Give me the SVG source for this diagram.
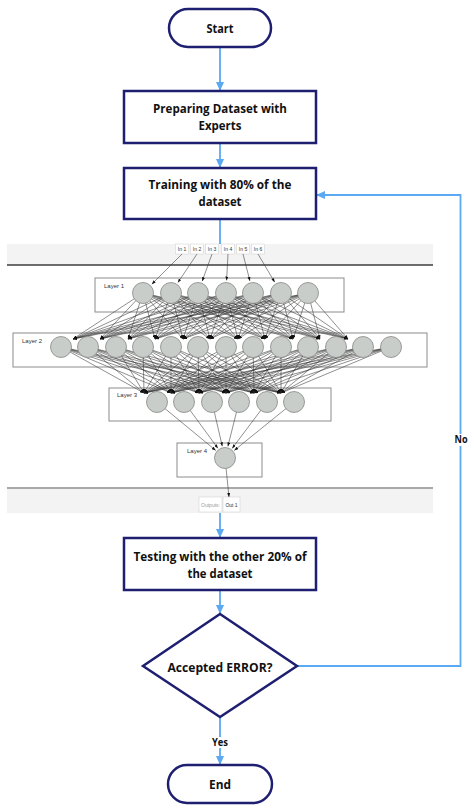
<svg xmlns="http://www.w3.org/2000/svg" width="474" height="809" viewBox="0 0 474 809">
<style>
.fc{fill:#fff;stroke:#1f1f72;stroke-width:2.5}
.t{font-family:"Open Sans","Liberation Sans",sans-serif;font-weight:bold;font-size:13px;fill:#111;text-anchor:middle}
.bl{fill:none;stroke:#5aa9f2;stroke-width:1.8}
.blm{marker-end:url(#ba)}
.band{fill:#f3f3f3}
.lay{fill:#fff;stroke:#8c8c8c;stroke-width:1}
.ll{font-family:"Liberation Sans",Arial,sans-serif;font-size:6px;fill:#333}
.nd{fill:#c9cdc9;stroke:#858885;stroke-width:0.8}
.e line{stroke:#333;stroke-width:0.55;marker-end:url(#ah)}
.ib{fill:#fff;stroke:#d4d4d4;stroke-width:0.6}
.it{font-family:"Liberation Sans",Arial,sans-serif;font-size:5px;fill:#333;text-anchor:middle}
</style>
<defs>
<marker id="ba" markerUnits="userSpaceOnUse" markerWidth="9" markerHeight="8" refX="9" refY="4" orient="auto"><path d="M0,0 L9,4 L0,8 z" fill="#5aa9f2"/></marker>
<marker id="ah" markerUnits="userSpaceOnUse" markerWidth="4" markerHeight="3" refX="4" refY="1.5" orient="auto"><path d="M0,0 L4,1.5 L0,3 z" fill="#111"/></marker>
</defs>
<rect width="474" height="809" fill="#fff"/>

<!-- neural network picture -->
<g id="nn">
<rect class="band" x="7" y="244" width="426" height="21"/>
<line x1="7" y1="265" x2="433" y2="265" stroke="#3c3c3c" stroke-width="1.3"/>
<rect class="band" x="7" y="488" width="426" height="25"/>
<line x1="7" y1="488" x2="433" y2="488" stroke="#a8a8a8" stroke-width="2"/>
<g id="inputs">
<rect class="ib" x="175.5" y="244" width="13" height="10"/><text class="it" x="182" y="251">In 1</text>
<rect class="ib" x="190.5" y="244" width="13" height="10"/><text class="it" x="197" y="251">In 2</text>
<rect class="ib" x="205.5" y="244" width="13" height="10"/><text class="it" x="212" y="251">In 3</text>
<rect class="ib" x="221.5" y="244" width="13" height="10"/><text class="it" x="228" y="251">In 4</text>
<rect class="ib" x="236.5" y="244" width="13" height="10"/><text class="it" x="243" y="251">In 5</text>
<rect class="ib" x="251.5" y="244" width="13" height="10"/><text class="it" x="258" y="251">In 6</text>
</g>
<g id="outputs">
<rect class="ib" x="199" y="497" width="23" height="15"/><text class="it" x="210.5" y="506.5" style="fill:#9a9a9a">Outputs:</text>
<rect class="ib" x="223" y="497" width="17" height="15"/><text class="it" x="231.5" y="506.5">Out 1</text>
</g>
<rect id="layer1" class="lay" x="95" y="278" width="249" height="34"/>
<text class="ll" x="104" y="288">Layer 1</text>
<rect id="layer2" class="lay" x="13" y="333" width="414" height="34"/>
<text class="ll" x="22" y="343">Layer 2</text>
<rect id="layer3" class="lay" x="109" y="388" width="222" height="33"/>
<text class="ll" x="117" y="397">Layer 3</text>
<rect id="layer4" class="lay" x="177" y="443" width="85" height="34"/>
<text class="ll" x="187" y="453">Layer 4</text>

<g class="e" id="nn-edges">
<line x1="182" y1="254" x2="151.8" y2="284.2"/>
<line x1="197" y1="254" x2="177.9" y2="282.6"/>
<line x1="212" y1="254" x2="202.2" y2="281.2"/>
<line x1="228" y1="254" x2="226.6" y2="280.5"/>
<line x1="243" y1="254" x2="249.9" y2="280.9"/>
<line x1="258" y1="254" x2="274.7" y2="282.2"/>

<line x1="143" y1="293" x2="73" y2="339"/><line x1="143" y1="293" x2="100" y2="339"/><line x1="143" y1="293" x2="128" y2="339"/><line x1="143" y1="293" x2="155" y2="339"/><line x1="143" y1="293" x2="183" y2="339"/><line x1="143" y1="293" x2="210" y2="339"/><line x1="143" y1="293" x2="238" y2="339"/><line x1="143" y1="293" x2="265" y2="339"/><line x1="143" y1="293" x2="293" y2="339"/><line x1="143" y1="293" x2="320" y2="339"/><line x1="143" y1="293" x2="348" y2="339"/>
<line x1="171" y1="293" x2="73" y2="339"/><line x1="171" y1="293" x2="100" y2="339"/><line x1="171" y1="293" x2="128" y2="339"/><line x1="171" y1="293" x2="155" y2="339"/><line x1="171" y1="293" x2="183" y2="339"/><line x1="171" y1="293" x2="210" y2="339"/><line x1="171" y1="293" x2="238" y2="339"/><line x1="171" y1="293" x2="265" y2="339"/><line x1="171" y1="293" x2="293" y2="339"/><line x1="171" y1="293" x2="320" y2="339"/><line x1="171" y1="293" x2="348" y2="339"/>
<line x1="198" y1="293" x2="73" y2="339"/><line x1="198" y1="293" x2="100" y2="339"/><line x1="198" y1="293" x2="128" y2="339"/><line x1="198" y1="293" x2="155" y2="339"/><line x1="198" y1="293" x2="183" y2="339"/><line x1="198" y1="293" x2="210" y2="339"/><line x1="198" y1="293" x2="238" y2="339"/><line x1="198" y1="293" x2="265" y2="339"/><line x1="198" y1="293" x2="293" y2="339"/><line x1="198" y1="293" x2="320" y2="339"/><line x1="198" y1="293" x2="348" y2="339"/>
<line x1="226" y1="293" x2="73" y2="339"/><line x1="226" y1="293" x2="100" y2="339"/><line x1="226" y1="293" x2="128" y2="339"/><line x1="226" y1="293" x2="155" y2="339"/><line x1="226" y1="293" x2="183" y2="339"/><line x1="226" y1="293" x2="210" y2="339"/><line x1="226" y1="293" x2="238" y2="339"/><line x1="226" y1="293" x2="265" y2="339"/><line x1="226" y1="293" x2="293" y2="339"/><line x1="226" y1="293" x2="320" y2="339"/><line x1="226" y1="293" x2="348" y2="339"/>
<line x1="253" y1="293" x2="73" y2="339"/><line x1="253" y1="293" x2="100" y2="339"/><line x1="253" y1="293" x2="128" y2="339"/><line x1="253" y1="293" x2="155" y2="339"/><line x1="253" y1="293" x2="183" y2="339"/><line x1="253" y1="293" x2="210" y2="339"/><line x1="253" y1="293" x2="238" y2="339"/><line x1="253" y1="293" x2="265" y2="339"/><line x1="253" y1="293" x2="293" y2="339"/><line x1="253" y1="293" x2="320" y2="339"/><line x1="253" y1="293" x2="348" y2="339"/>
<line x1="281" y1="293" x2="73" y2="339"/><line x1="281" y1="293" x2="100" y2="339"/><line x1="281" y1="293" x2="128" y2="339"/><line x1="281" y1="293" x2="155" y2="339"/><line x1="281" y1="293" x2="183" y2="339"/><line x1="281" y1="293" x2="210" y2="339"/><line x1="281" y1="293" x2="238" y2="339"/><line x1="281" y1="293" x2="265" y2="339"/><line x1="281" y1="293" x2="293" y2="339"/><line x1="281" y1="293" x2="320" y2="339"/><line x1="281" y1="293" x2="348" y2="339"/>
<line x1="308" y1="293" x2="73" y2="339"/><line x1="308" y1="293" x2="100" y2="339"/><line x1="308" y1="293" x2="128" y2="339"/><line x1="308" y1="293" x2="155" y2="339"/><line x1="308" y1="293" x2="183" y2="339"/><line x1="308" y1="293" x2="210" y2="339"/><line x1="308" y1="293" x2="238" y2="339"/><line x1="308" y1="293" x2="265" y2="339"/><line x1="308" y1="293" x2="293" y2="339"/><line x1="308" y1="293" x2="320" y2="339"/><line x1="308" y1="293" x2="348" y2="339"/>

<line x1="61" y1="347" x2="144" y2="393"/><line x1="61" y1="347" x2="171" y2="393"/><line x1="61" y1="347" x2="199" y2="393"/><line x1="61" y1="347" x2="226" y2="393"/><line x1="61" y1="347" x2="254" y2="393"/><line x1="61" y1="347" x2="281" y2="393"/>
<line x1="88" y1="347" x2="144" y2="393"/><line x1="88" y1="347" x2="171" y2="393"/><line x1="88" y1="347" x2="199" y2="393"/><line x1="88" y1="347" x2="226" y2="393"/><line x1="88" y1="347" x2="254" y2="393"/><line x1="88" y1="347" x2="281" y2="393"/>
<line x1="116" y1="347" x2="144" y2="393"/><line x1="116" y1="347" x2="171" y2="393"/><line x1="116" y1="347" x2="199" y2="393"/><line x1="116" y1="347" x2="226" y2="393"/><line x1="116" y1="347" x2="254" y2="393"/><line x1="116" y1="347" x2="281" y2="393"/>
<line x1="143" y1="347" x2="144" y2="393"/><line x1="143" y1="347" x2="171" y2="393"/><line x1="143" y1="347" x2="199" y2="393"/><line x1="143" y1="347" x2="226" y2="393"/><line x1="143" y1="347" x2="254" y2="393"/><line x1="143" y1="347" x2="281" y2="393"/>
<line x1="171" y1="347" x2="144" y2="393"/><line x1="171" y1="347" x2="171" y2="393"/><line x1="171" y1="347" x2="199" y2="393"/><line x1="171" y1="347" x2="226" y2="393"/><line x1="171" y1="347" x2="254" y2="393"/><line x1="171" y1="347" x2="281" y2="393"/>
<line x1="198" y1="347" x2="144" y2="393"/><line x1="198" y1="347" x2="171" y2="393"/><line x1="198" y1="347" x2="199" y2="393"/><line x1="198" y1="347" x2="226" y2="393"/><line x1="198" y1="347" x2="254" y2="393"/><line x1="198" y1="347" x2="281" y2="393"/>
<line x1="226" y1="347" x2="144" y2="393"/><line x1="226" y1="347" x2="171" y2="393"/><line x1="226" y1="347" x2="199" y2="393"/><line x1="226" y1="347" x2="226" y2="393"/><line x1="226" y1="347" x2="254" y2="393"/><line x1="226" y1="347" x2="281" y2="393"/>
<line x1="253" y1="347" x2="144" y2="393"/><line x1="253" y1="347" x2="171" y2="393"/><line x1="253" y1="347" x2="199" y2="393"/><line x1="253" y1="347" x2="226" y2="393"/><line x1="253" y1="347" x2="254" y2="393"/><line x1="253" y1="347" x2="281" y2="393"/>
<line x1="281" y1="347" x2="144" y2="393"/><line x1="281" y1="347" x2="171" y2="393"/><line x1="281" y1="347" x2="199" y2="393"/><line x1="281" y1="347" x2="226" y2="393"/><line x1="281" y1="347" x2="254" y2="393"/><line x1="281" y1="347" x2="281" y2="393"/>
<line x1="308" y1="347" x2="144" y2="393"/><line x1="308" y1="347" x2="171" y2="393"/><line x1="308" y1="347" x2="199" y2="393"/><line x1="308" y1="347" x2="226" y2="393"/><line x1="308" y1="347" x2="254" y2="393"/><line x1="308" y1="347" x2="281" y2="393"/>
<line x1="336" y1="347" x2="144" y2="393"/><line x1="336" y1="347" x2="171" y2="393"/><line x1="336" y1="347" x2="199" y2="393"/><line x1="336" y1="347" x2="226" y2="393"/><line x1="336" y1="347" x2="254" y2="393"/><line x1="336" y1="347" x2="281" y2="393"/>
<line x1="363" y1="347" x2="144" y2="393"/><line x1="363" y1="347" x2="171" y2="393"/><line x1="363" y1="347" x2="199" y2="393"/><line x1="363" y1="347" x2="226" y2="393"/><line x1="363" y1="347" x2="254" y2="393"/><line x1="363" y1="347" x2="281" y2="393"/>
<line x1="391" y1="347" x2="144" y2="393"/><line x1="391" y1="347" x2="171" y2="393"/><line x1="391" y1="347" x2="199" y2="393"/><line x1="391" y1="347" x2="226" y2="393"/><line x1="391" y1="347" x2="254" y2="393"/><line x1="391" y1="347" x2="281" y2="393"/>

<line x1="157" y1="402" x2="215.7" y2="450.4"/>
<line x1="184" y1="402" x2="217.9" y2="448.3"/>
<line x1="212" y1="402" x2="222.3" y2="446.3"/>
<line x1="239" y1="402" x2="227.9" y2="446.4"/>
<line x1="267" y1="402" x2="232.2" y2="448.4"/>
<line x1="294" y1="402" x2="234.3" y2="450.4"/>
<line x1="225" y1="458" x2="229" y2="497"/>
</g>

<g id="nn-nodes">
<circle class="nd" cx="143" cy="293" r="10.5"/><circle class="nd" cx="171" cy="293" r="10.5"/><circle class="nd" cx="198" cy="293" r="10.5"/><circle class="nd" cx="226" cy="293" r="10.5"/><circle class="nd" cx="253" cy="293" r="10.5"/><circle class="nd" cx="281" cy="293" r="10.5"/><circle class="nd" cx="308" cy="293" r="10.5"/>
<circle class="nd" cx="61" cy="347" r="10.5"/><circle class="nd" cx="88" cy="347" r="10.5"/><circle class="nd" cx="116" cy="347" r="10.5"/><circle class="nd" cx="143" cy="347" r="10.5"/><circle class="nd" cx="171" cy="347" r="10.5"/><circle class="nd" cx="198" cy="347" r="10.5"/><circle class="nd" cx="226" cy="347" r="10.5"/><circle class="nd" cx="253" cy="347" r="10.5"/><circle class="nd" cx="281" cy="347" r="10.5"/><circle class="nd" cx="308" cy="347" r="10.5"/><circle class="nd" cx="336" cy="347" r="10.5"/><circle class="nd" cx="363" cy="347" r="10.5"/><circle class="nd" cx="391" cy="347" r="10.5"/>
<circle class="nd" cx="157" cy="402" r="10.5"/><circle class="nd" cx="184" cy="402" r="10.5"/><circle class="nd" cx="212" cy="402" r="10.5"/><circle class="nd" cx="239" cy="402" r="10.5"/><circle class="nd" cx="267" cy="402" r="10.5"/><circle class="nd" cx="294" cy="402" r="10.5"/>
<circle class="nd" cx="225" cy="458" r="10.5"/>
</g>
</g>

<!-- flowchart connectors -->
<g id="connectors">
<line class="bl blm" x1="220" y1="47" x2="220" y2="91"/>
<line class="bl blm" x1="220" y1="143" x2="220" y2="168"/>
<line class="bl" x1="220" y1="219" x2="220" y2="244"/>
<line class="bl blm" x1="220" y1="513" x2="220" y2="538"/>
<line class="bl blm" x1="220" y1="590" x2="220" y2="614"/>
<line class="bl blm" x1="220" y1="717" x2="220" y2="765"/>
<polyline class="bl blm" points="297,666 460.5,666 460.5,195 316,195"/>
<rect x="453" y="434" width="16" height="12" fill="#fff"/>
<text class="t" x="461" y="443" style="font-size:10px" textLength="13" lengthAdjust="spacingAndGlyphs">No</text>
<rect x="210" y="737" width="20" height="11" fill="#fff"/>
<text class="t" x="220" y="745.5" style="font-size:10px" textLength="16" lengthAdjust="spacingAndGlyphs">Yes</text>
</g>

<g id="start">
<rect class="fc" x="169" y="9" width="102" height="38" rx="19"/>
<text class="t" x="220" y="33" textLength="27" lengthAdjust="spacingAndGlyphs">Start</text>
</g>
<g id="prepare">
<rect class="fc" x="124" y="91" width="192" height="52"/>
<text class="t" x="220" y="113" textLength="134" lengthAdjust="spacingAndGlyphs">Preparing Dataset with</text>
<text class="t" x="220" y="130" textLength="43" lengthAdjust="spacingAndGlyphs">Experts</text>
</g>
<g id="training">
<rect class="fc" x="124" y="168" width="192" height="51"/>
<text class="t" x="220" y="189" textLength="143" lengthAdjust="spacingAndGlyphs">Training with 80% of the</text>
<text class="t" x="220" y="206" textLength="43" lengthAdjust="spacingAndGlyphs">dataset</text>
</g>
<g id="testing">
<rect class="fc" x="124" y="538" width="192" height="52"/>
<text class="t" x="220" y="561" textLength="173" lengthAdjust="spacingAndGlyphs">Testing with the other 20% of</text>
<text class="t" x="220" y="578" textLength="65" lengthAdjust="spacingAndGlyphs">the dataset</text>
</g>
<g id="decision">
<polygon class="fc" points="220,614 297,666 220,717 143,666"/>
<text class="t" x="220" y="671.5" textLength="105" lengthAdjust="spacingAndGlyphs">Accepted ERROR?</text>
</g>
<g id="end">
<rect class="fc" x="168" y="765" width="104" height="38" rx="19"/>
<text class="t" x="220" y="789" textLength="22" lengthAdjust="spacingAndGlyphs">End</text>
</g>
</svg>
